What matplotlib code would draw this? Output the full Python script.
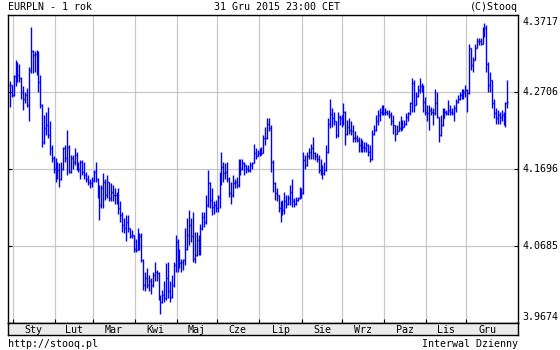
import numpy as np
import pandas as pd
import matplotlib
matplotlib.use("Agg")
import matplotlib.pyplot as plt

# kursy dzienne EURPLN, od 30.12.2014
closes = [
    4.280, 4.267, 4.291, 4.306, 4.293, 4.289, 4.271, 4.262, 4.267, 4.253,
    4.299, 4.324, 4.319, 4.321, 4.306, 4.284, 4.253, 4.205, 4.223, 4.227,
    4.214, 4.197, 4.184, 4.170, 4.166, 4.168, 4.157, 4.170, 4.197, 4.184,
    4.199, 4.166, 4.184, 4.179, 4.188, 4.173, 4.170, 4.179, 4.166, 4.162,
    4.157, 4.153, 4.151, 4.155, 4.166, 4.157, 4.135, 4.122, 4.144, 4.153,
    4.135, 4.153, 4.131, 4.140, 4.135, 4.135, 4.133, 4.118, 4.109, 4.096,
    4.092, 4.100, 4.092, 4.081, 4.083, 4.065, 4.063, 4.065, 4.081, 4.050,
    4.017, 4.026, 4.017, 4.022, 4.017, 4.030, 4.035, 4.033, 4.000, 3.995,
    4.004, 4.000, 4.026, 4.009, 4.002, 4.017, 4.044, 4.074, 4.044, 4.046,
    4.048, 4.050, 4.065, 4.083, 4.096, 4.081, 4.052, 4.057, 4.076, 4.059,
    4.092, 4.107, 4.100, 4.122, 4.151, 4.129, 4.120, 4.122, 4.118, 4.133,
    4.162, 4.172, 4.164, 4.166, 4.157, 4.138, 4.135, 4.151, 4.153, 4.148,
    4.164, 4.170, 4.177, 4.175, 4.170, 4.168, 4.175, 4.177, 4.190, 4.186,
    4.190, 4.192, 4.190, 4.210, 4.210, 4.229, 4.223, 4.179, 4.151, 4.138,
    4.135, 4.118, 4.111, 4.116, 4.127, 4.124, 4.131, 4.140, 4.127, 4.124,
    4.129, 4.131, 4.140, 4.138, 4.181, 4.175, 4.186, 4.192, 4.197, 4.190,
    4.186, 4.183, 4.168, 4.166, 4.164, 4.168, 4.192, 4.229, 4.242, 4.236,
    4.232, 4.214, 4.238, 4.236, 4.232, 4.245, 4.216, 4.225, 4.221, 4.219,
    4.210, 4.210, 4.208, 4.201, 4.197, 4.199, 4.197, 4.201, 4.192, 4.183,
    4.216, 4.221, 4.232, 4.240, 4.245, 4.247, 4.243, 4.245, 4.243, 4.240,
    4.232, 4.227, 4.216, 4.219, 4.223, 4.229, 4.225, 4.229, 4.238, 4.243,
    4.256, 4.283, 4.254, 4.266, 4.273, 4.278, 4.276, 4.258, 4.245, 4.243,
    4.247, 4.245, 4.243, 4.256, 4.238, 4.214, 4.227, 4.236, 4.245, 4.243,
    4.247, 4.245, 4.243, 4.249, 4.258, 4.262, 4.267, 4.269, 4.271, 4.273,
    4.269, 4.328, 4.306, 4.313, 4.328, 4.337, 4.337, 4.334, 4.350, 4.354,
    4.308, 4.280, 4.286, 4.256, 4.243, 4.236, 4.240, 4.238, 4.240, 4.236,
    4.256, 4.258]

highs = [
    4.285, 4.280, 4.293, 4.313, 4.310, 4.308, 4.290, 4.278, 4.271, 4.276,
    4.304, 4.356, 4.326, 4.324, 4.326, 4.324, 4.293, 4.255, 4.240, 4.245,
    4.251, 4.232, 4.201, 4.186, 4.184, 4.179, 4.177, 4.179, 4.199, 4.201,
    4.221, 4.201, 4.188, 4.188, 4.197, 4.192, 4.179, 4.181, 4.181, 4.179,
    4.166, 4.162, 4.157, 4.159, 4.168, 4.179, 4.158, 4.148, 4.148, 4.164,
    4.157, 4.162, 4.153, 4.151, 4.148, 4.144, 4.140, 4.144, 4.127, 4.113,
    4.105, 4.109, 4.109, 4.092, 4.089, 4.083, 4.078, 4.092, 4.085, 4.085,
    4.052, 4.035, 4.039, 4.030, 4.026, 4.035, 4.048, 4.037, 4.035, 4.004,
    4.011, 4.022, 4.046, 4.048, 4.022, 4.030, 4.048, 4.083, 4.078, 4.065,
    4.052, 4.052, 4.092, 4.105, 4.116, 4.105, 4.113, 4.087, 4.087, 4.083,
    4.098, 4.113, 4.113, 4.135, 4.168, 4.153, 4.144, 4.127, 4.129, 4.135,
    4.166, 4.192, 4.179, 4.177, 4.179, 4.159, 4.153, 4.162, 4.157, 4.159,
    4.183, 4.183, 4.183, 4.179, 4.175, 4.175, 4.179, 4.179, 4.203, 4.197,
    4.194, 4.197, 4.199, 4.214, 4.225, 4.236, 4.236, 4.227, 4.181, 4.153,
    4.144, 4.135, 4.127, 4.129, 4.140, 4.135, 4.135, 4.148, 4.157, 4.131,
    4.133, 4.133, 4.146, 4.144, 4.192, 4.188, 4.192, 4.197, 4.203, 4.212,
    4.192, 4.190, 4.188, 4.183, 4.175, 4.179, 4.201, 4.236, 4.261, 4.249,
    4.245, 4.233, 4.245, 4.240, 4.240, 4.256, 4.246, 4.234, 4.236, 4.232,
    4.227, 4.219, 4.214, 4.212, 4.210, 4.208, 4.205, 4.205, 4.203, 4.201,
    4.221, 4.227, 4.240, 4.247, 4.249, 4.254, 4.254, 4.249, 4.247, 4.247,
    4.245, 4.240, 4.227, 4.227, 4.232, 4.239, 4.234, 4.234, 4.243, 4.245,
    4.258, 4.289, 4.286, 4.271, 4.280, 4.289, 4.282, 4.280, 4.264, 4.253,
    4.253, 4.251, 4.249, 4.275, 4.270, 4.238, 4.240, 4.249, 4.249, 4.247,
    4.260, 4.254, 4.249, 4.254, 4.262, 4.267, 4.271, 4.275, 4.275, 4.280,
    4.274, 4.333, 4.328, 4.317, 4.334, 4.341, 4.341, 4.341, 4.356, 4.361,
    4.359, 4.310, 4.297, 4.287, 4.262, 4.249, 4.247, 4.245, 4.247, 4.245,
    4.258, 4.287]

lows = [
    4.251, 4.264, 4.266, 4.278, 4.284, 4.284, 4.262, 4.247, 4.256, 4.251,
    4.232, 4.295, 4.295, 4.297, 4.293, 4.271, 4.249, 4.199, 4.203, 4.214,
    4.210, 4.188, 4.179, 4.164, 4.153, 4.157, 4.146, 4.155, 4.168, 4.179,
    4.162, 4.164, 4.164, 4.170, 4.175, 4.168, 4.166, 4.157, 4.162, 4.157,
    4.153, 4.148, 4.144, 4.146, 4.153, 4.153, 4.131, 4.103, 4.118, 4.118,
    4.129, 4.131, 4.127, 4.127, 4.127, 4.124, 4.124, 4.111, 4.100, 4.087,
    4.085, 4.075, 4.087, 4.079, 4.079, 4.061, 4.061, 4.063, 4.063, 4.048,
    4.011, 4.009, 4.013, 4.009, 4.006, 4.015, 4.022, 4.022, 3.998, 3.979,
    3.993, 3.995, 3.998, 4.000, 3.995, 4.000, 4.015, 4.035, 4.035, 4.039,
    4.035, 4.037, 4.044, 4.063, 4.070, 4.074, 4.048, 4.046, 4.055, 4.057,
    4.057, 4.090, 4.094, 4.098, 4.120, 4.118, 4.109, 4.111, 4.113, 4.113,
    4.119, 4.148, 4.153, 4.157, 4.153, 4.133, 4.124, 4.133, 4.144, 4.144,
    4.146, 4.162, 4.168, 4.162, 4.164, 4.166, 4.166, 4.170, 4.177, 4.183,
    4.186, 4.186, 4.188, 4.190, 4.201, 4.209, 4.219, 4.166, 4.140, 4.129,
    4.127, 4.113, 4.100, 4.109, 4.111, 4.118, 4.122, 4.122, 4.120, 4.120,
    4.122, 4.127, 4.130, 4.131, 4.137, 4.170, 4.174, 4.183, 4.183, 4.183,
    4.181, 4.179, 4.164, 4.162, 4.157, 4.162, 4.167, 4.190, 4.223, 4.225,
    4.227, 4.210, 4.212, 4.227, 4.225, 4.227, 4.201, 4.214, 4.216, 4.214,
    4.205, 4.205, 4.205, 4.192, 4.192, 4.192, 4.192, 4.192, 4.186, 4.179,
    4.182, 4.214, 4.220, 4.227, 4.232, 4.240, 4.240, 4.240, 4.240, 4.236,
    4.227, 4.216, 4.206, 4.216, 4.219, 4.219, 4.221, 4.225, 4.227, 4.232,
    4.240, 4.245, 4.245, 4.253, 4.264, 4.269, 4.271, 4.245, 4.240, 4.232,
    4.221, 4.240, 4.227, 4.240, 4.236, 4.205, 4.213, 4.226, 4.236, 4.240,
    4.240, 4.240, 4.240, 4.233, 4.245, 4.256, 4.260, 4.262, 4.262, 4.264,
    4.245, 4.268, 4.300, 4.297, 4.312, 4.328, 4.332, 4.332, 4.333, 4.343,
    4.297, 4.271, 4.271, 4.249, 4.236, 4.229, 4.229, 4.229, 4.232, 4.227,
    4.225, 4.250]

y_ticks = [3.9674, 4.0685, 4.1696, 4.2706, 4.3717]
month_names = ['Sty', 'Lut', 'Mar', 'Kwi', 'Maj', 'Cze',
               'Lip', 'Sie', 'Wrz', 'Paz', 'Lis', 'Gru']

dates = pd.bdate_range('2014-12-30', periods=len(closes))
x = np.arange(len(closes))
# otwarcie = zamkniecie poprzedniej sesji
opens = [closes[0]] + closes[:-1]

# granice miesiecy
starts = [i for i in range(1, len(dates)) if dates[i].month != dates[i - 1].month]
grid_x = [s - 0.5 for s in starts]
bounds = grid_x + [len(dates) - 0.5]
mids = [(bounds[k] + bounds[k + 1]) / 2 for k in range(len(grid_x))]

W, H = 560, 350
fig = plt.figure(figsize=(W / 100, H / 100), dpi=100)
fig.patch.set_facecolor('white')
font = dict(family='DejaVu Sans Mono', fontsize=7.2, color='black')
blue = '#0000ff'
xlim = (-0.97, 266.6)

ax = fig.add_axes([8 / W, 1 - 323 / H, 510 / W, 308 / H])
ax.set_xlim(*xlim)
ax.set_ylim(y_ticks[0], y_ticks[-1])
ax.set_xticks(grid_x)
ax.set_yticks(y_ticks)
ax.grid(True, color='#c8c8c8', lw=0.9)
ax.set_axisbelow(True)
ax.tick_params(axis='both', direction='in', length=3, width=0.8, color='black',
               labelbottom=False, labelleft=False)
ax.tick_params(axis='y', right=True)
for sp in ax.spines.values():
    sp.set_linewidth(1.0)

ax.vlines(x, lows, highs, color=blue, lw=1.0)
ax.hlines(opens, x - 0.5, x, color=blue, lw=1.0)
ax.hlines(closes, x, x + 0.5, color=blue, lw=1.0)

for v in y_ticks:
    dy = 0
    if v == y_ticks[-1]:
        dy = -5
    elif v == y_ticks[0]:
        dy = 4.5
    ax.annotate(f'{v:.4f}', xy=(1, v), xycoords=('axes fraction', 'data'),
                xytext=(3, dy), textcoords='offset points', va='center', ha='left',
                annotation_clip=False, **font)

# pasek z nazwami miesiecy
bax = fig.add_axes([8 / W, 1 - 335 / H, 510 / W, 12 / H])
bax.set_facecolor('#ebebeb')
bax.set_xlim(*xlim)
bax.set_ylim(0, 1)
bax.set_xticks([])
bax.set_yticks([])
for sp in bax.spines.values():
    sp.set_linewidth(1.0)
for m, name in zip(mids, month_names):
    bax.text(m, 0.45, name, ha='center', va='center', **font)

fig.text(8 / W, 1 - 7 / H, 'EURPLN - 1 rok', ha='left', va='center', **font)
fig.text(277.5 / W, 1 - 7 / H, '31 Gru 2015 23:00 CET', ha='center', va='center', **font)
fig.text(518 / W, 1 - 7 / H, '(C)Stooq', ha='right', va='center', **font)
fig.text(8 / W, 1 - 344 / H, 'http://stooq.pl', ha='left', va='center', **font)
fig.text(518 / W, 1 - 344 / H, 'Interwal Dzienny', ha='right', va='center', **font)

fig.savefig('out.png', dpi=100)
